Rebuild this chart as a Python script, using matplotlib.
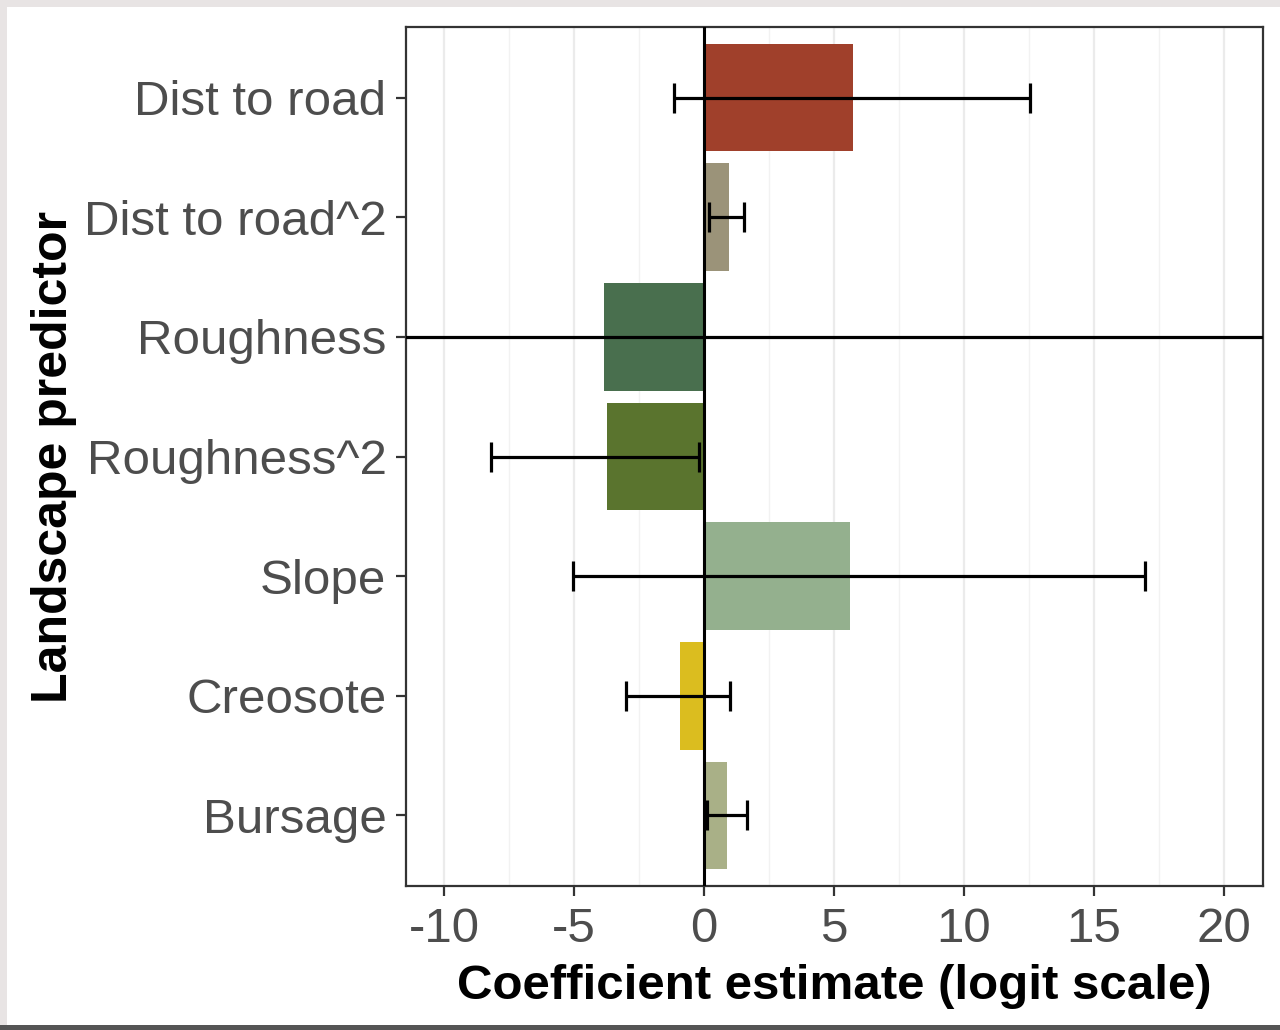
import numpy as np
import matplotlib
matplotlib.use("Agg")
import matplotlib.pyplot as plt
from matplotlib.patches import Rectangle

predictors = ["Dist to road", "Dist to road^2", "Roughness", "Roughness^2",
              "Slope", "Creosote", "Bursage"]
estimate = [5.73, 0.96, -3.85, -3.73, 5.62, -0.92, 0.88]
lower = [-1.15, 0.19, -40.0, -8.19, -5.04, -3.0, 0.12]
upper = [12.54, 1.54, 45.0, -0.19, 16.96, 1.0, 1.65]
colors = ["#A0402B", "#9B9379", "#496F4E", "#5A742E", "#94B08E", "#DBBD1F", "#A9B087"]
xticks = [-10, -5, 0, 5, 10, 15, 20]

plt.rcParams["font.family"] = ["Liberation Sans", "DejaVu Sans"]
plt.rcParams["axes.unicode_minus"] = False

fig = plt.figure(figsize=(12.8, 10.3), dpi=100)
# screenshot-style frame around the plot
fig.patches.append(Rectangle((0, 0), 1, 1, transform=fig.transFigure,
                             facecolor="#e8e4e4", edgecolor="none", zorder=-3))
fig.patches.append(Rectangle((7 / 1280, 5 / 1030), 1, 1 - 12 / 1030,
                             transform=fig.transFigure, facecolor="white",
                             edgecolor="none", zorder=-2))
fig.patches.append(Rectangle((0, 0), 1, 5 / 1030, transform=fig.transFigure,
                             facecolor="#555555", edgecolor="none", zorder=-1))

ax = fig.add_axes([406 / 1280, 144 / 1030, 857 / 1280, 859 / 1030])

y = np.arange(len(predictors))
ax.barh(y, estimate, height=0.9, color=colors, zorder=2)
est = np.array(estimate)
ax.errorbar(est, y, xerr=[est - np.array(lower), np.array(upper) - est],
            fmt="none", ecolor="black", elinewidth=2.3, capsize=11,
            capthick=2.3, zorder=4)
ax.axvline(0, color="black", lw=2.2, zorder=3)

ax.set_xlim(-11.46, 21.5)
ax.set_ylim(len(predictors) - 0.41, -0.59)
ax.set_xticks(xticks)
ax.set_xticks(np.arange(-10, 22.5, 2.5), minor=True)
ax.grid(axis="x", which="major", color="#ebebeb", lw=1.6, zorder=0)
ax.grid(axis="x", which="minor", color="#f2f2f2", lw=1.0, zorder=0)
ax.set_axisbelow(True)
ax.tick_params(axis="x", which="minor", length=0)
ax.set_yticks(y)
ax.set_yticklabels(predictors)
ax.tick_params(axis="both", which="major", labelsize=35.5, labelcolor="#4d4d4d",
               color="#333333", length=7, width=1.6)
ax.tick_params(axis="y", pad=7)
ax.tick_params(axis="x", pad=8)
for s in ax.spines.values():
    s.set_color("#333333")
    s.set_linewidth(1.6)

ax.set_xlabel("Coefficient estimate (logit scale)", fontsize=35.5,
              fontweight="bold", labelpad=9)
ax.set_ylabel("Landscape predictor", fontsize=36, fontweight="bold", labelpad=5)

fig.savefig("out.png", dpi=100)
